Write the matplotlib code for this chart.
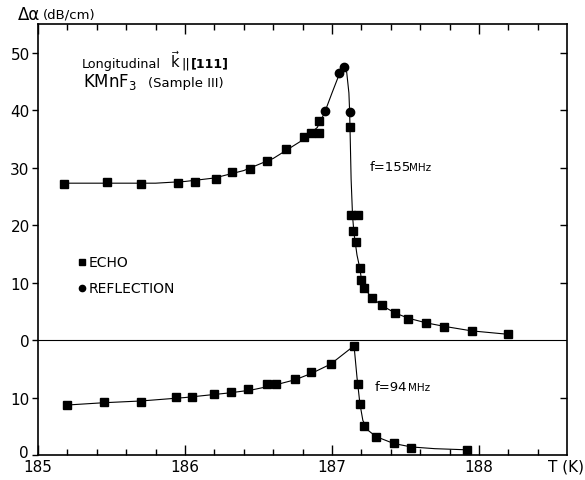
import matplotlib
matplotlib.use("Agg")
import matplotlib.pyplot as plt
from matplotlib.ticker import MultipleLocator

# ---------------- data ----------------
# f = 155 MHz (upper curve, own scale, zero on the horizontal line)
echo155_T = [185.18, 185.47, 185.70, 185.95, 186.07, 186.21, 186.32, 186.44, 186.56,
             186.69, 186.81, 186.86, 186.91, 186.91, 187.12, 187.13, 187.18, 187.14,
             187.16, 187.19, 187.20, 187.22, 187.27, 187.34, 187.43, 187.52, 187.64,
             187.76, 187.95, 188.20]
echo155_v = [27.2, 27.5, 27.2, 27.4, 27.5, 28.1, 29.3, 29.8, 31.2,
             33.2, 35.3, 36.0, 36.0, 38.1, 37.0, 21.8, 21.8, 19.0,
             17.0, 12.5, 10.5, 9.1, 7.4, 6.1, 4.7, 3.7, 3.0,
             2.3, 1.6, 1.0]
refl155_T = [186.95, 187.05, 187.08, 187.12]
refl155_v = [39.9, 46.5, 47.5, 39.7]
fit155_T = [185.18, 185.5, 185.8, 186.0, 186.2, 186.4, 186.6, 186.8, 186.9, 186.95,
            187.0, 187.05, 187.08, 187.10, 187.115, 187.12, 187.125, 187.13, 187.14,
            187.15, 187.17, 187.19, 187.20, 187.22, 187.27, 187.34, 187.43, 187.52,
            187.64, 187.76, 187.95, 188.20]
fit155_v = [27.3, 27.3, 27.3, 27.6, 28.2, 29.5, 31.6, 34.8, 37.0, 39.6,
            43.0, 46.3, 47.4, 46.6, 43.0, 39.7, 34.0, 28.0, 21.5,
            18.5, 14.8, 12.4, 10.6, 9.0, 7.4, 6.0, 4.7, 3.8,
            3.0, 2.4, 1.6, 1.0]

# f = 94 MHz (lower curve, own scale, zero at the bottom)
echo94_T = [185.20, 185.45, 185.70, 185.94, 186.05, 186.20, 186.31, 186.43, 186.56,
            186.62, 186.75, 186.86, 186.99, 187.15, 187.18, 187.19, 187.22, 187.30,
            187.42, 187.54, 187.92]
echo94_v = [8.7, 9.2, 9.3, 10.1, 10.1, 10.6, 10.9, 11.4, 12.3,
            12.3, 13.2, 14.4, 15.9, 19.0, 12.3, 8.9, 5.0, 3.2,
            2.1, 1.2, 0.9]
fit94_T = [185.20, 185.45, 185.70, 186.0, 186.3, 186.45, 186.6, 186.75, 186.86,
           186.99, 187.15, 187.17, 187.19, 187.21, 187.25, 187.30, 187.42, 187.54,
           187.7, 187.92]
fit94_v = [8.7, 9.1, 9.4, 10.0, 10.8, 11.3, 12.1, 13.1, 14.2,
           15.8, 19.0, 13.5, 8.9, 6.0, 4.2, 3.2, 2.0, 1.4,
           1.1, 0.9]

OFFSET = 20  # upper scale zero sits 20 units above the bottom
y_ticks = [0, 10, 20, 30, 40, 50, 60, 70]
y_ticklabels = ["", "10", "0", "10", "20", "30", "40", "50"]
x_ticks = [185, 186, 187, 188]
x_ticklabels = ["185", "186", "187", "188"]

# ---------------- figure ----------------
W, H = 585, 481
fig = plt.figure(figsize=(W / 100, H / 100), dpi=100)
ax = fig.add_axes([38 / W, 1 - 456 / H, (567 - 38) / W, (456 - 25) / H])
ax.set_xlim(185, 185 + 529 / 147)
ax.set_ylim(0, 75)

up = lambda v: [x + OFFSET for x in v]

ax.axhline(OFFSET, color="black", lw=0.8)
ax.plot(fit155_T, up(fit155_v), color="black", lw=0.8)
ax.plot(fit94_T, fit94_v, color="black", lw=0.8)
ax.plot(echo155_T, up(echo155_v), "s", color="black", ms=5.5, ls="none")
ax.plot(refl155_T, up(refl155_v), "o", color="black", ms=6, ls="none")
ax.plot(echo94_T, echo94_v, "s", color="black", ms=5.5, ls="none")

for s in ax.spines.values():
    s.set_linewidth(1.2)

ax.set_xticks(x_ticks)
ax.set_xticklabels(x_ticklabels, fontsize=11)
ax.xaxis.set_minor_locator(MultipleLocator(0.2))
ax.tick_params(axis="x", which="major", direction="in", top=True, bottom=True,
               length=7, width=1, pad=3)
ax.tick_params(axis="x", which="minor", direction="in", top=True, bottom=True,
               length=4, width=1)

ax.set_yticks(y_ticks)
ax.set_yticklabels(y_ticklabels, fontsize=11)
ax.tick_params(axis="y", which="major", direction="out", left=True, right=False,
               length=4, width=1, pad=2)
# right-hand inward ticks (no labels)
axr = ax.twinx()
axr.set_ylim(ax.get_ylim())
axr.set_yticks([10, 30, 40, 50, 60, 70])
axr.set_yticklabels([])
axr.tick_params(axis="y", direction="in", length=5, width=1)
for s in axr.spines.values():
    s.set_visible(False)

# ---------------- text ----------------
def T_at(px):
    return 185 + (px - 38) / 147

def Y_at(py):
    return (456 - py) / 5.74

ax.text(T_at(82), Y_at(68), "Longitudinal", fontsize=9.2, va="baseline", ha="left")
ax.text(T_at(170), Y_at(68), r"$\vec{\mathsf{k}}$", fontsize=10.5, va="baseline", ha="left")
ax.text(T_at(181), Y_at(68), "||", fontsize=9.5, va="baseline", ha="left")
ax.text(T_at(191), Y_at(68), "[111]", fontsize=9, va="baseline", ha="left",
        fontweight="bold")
ax.text(T_at(83), Y_at(87), r"KMnF$_3$", fontsize=12, va="baseline", ha="left")
ax.text(T_at(148), Y_at(87), "(Sample III)", fontsize=9.5, va="baseline", ha="left")

ax.plot([T_at(82)], [Y_at(263)], "s", color="black", ms=4.5)
ax.text(T_at(89), Y_at(263), "ECHO", fontsize=10, va="center", ha="left")
ax.plot([T_at(82)], [Y_at(289)], "o", color="black", ms=4.5)
ax.text(T_at(89), Y_at(289), "REFLECTION", fontsize=10, va="center", ha="left")

ax.text(T_at(370), Y_at(168), "f=155", fontsize=9.5, va="center", ha="left")
ax.text(T_at(409), Y_at(168), "MHz", fontsize=7.5, va="center", ha="left")
ax.text(T_at(375), Y_at(388), "f=94", fontsize=9.5, va="center", ha="left")
ax.text(T_at(408), Y_at(388), "MHz", fontsize=7.5, va="center", ha="left")

fig.text(19 / W, 1 - 454 / H, "0", fontsize=11, va="center", ha="left")
fig.text(18 / W, 1 - 15 / H, "Δα", fontsize=12, va="center", ha="left")
fig.text(43 / W, 1 - 15 / H, "(dB/cm)", fontsize=9.5, va="center", ha="left")
fig.text(548 / W, 1 - 467 / H, "T (K)", fontsize=11, va="center", ha="left")

fig.savefig("out.png", dpi=100, facecolor="white")
